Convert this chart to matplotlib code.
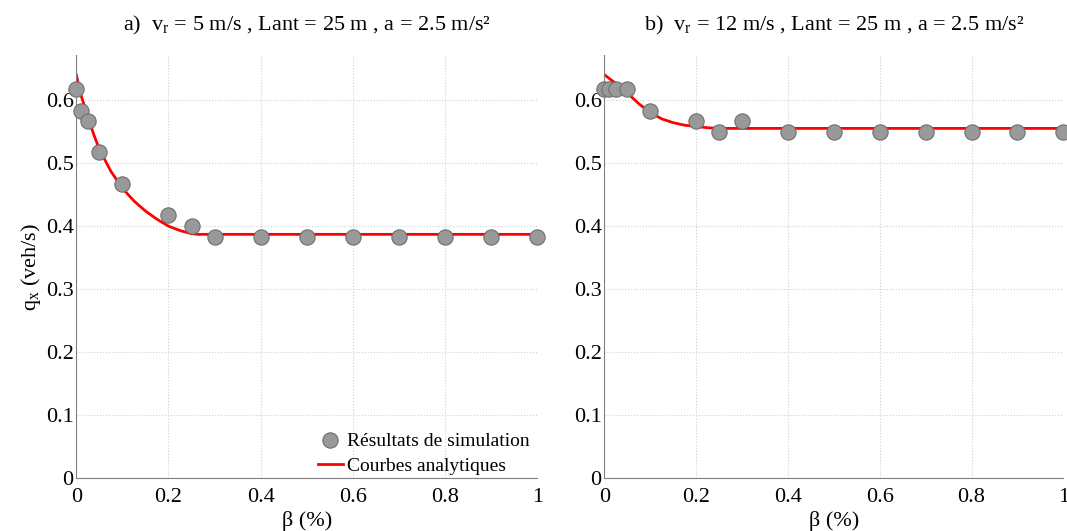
import matplotlib
matplotlib.use("Agg")
import matplotlib.pyplot as plt

plt.rcParams['font.family'] = ['Liberation Serif', 'DejaVu Serif']
plt.rcParams['mathtext.fontset'] = 'custom'
plt.rcParams['mathtext.rm'] = 'Liberation Serif'
plt.rcParams['mathtext.it'] = 'Liberation Serif:italic'

# simulation points
beta_sim = [0, 0.01, 0.025, 0.05, 0.1, 0.2, 0.25, 0.3, 0.4, 0.5, 0.6, 0.7, 0.8, 0.9, 1.0]
q_sim_a = [0.617, 0.583, 0.567, 0.517, 0.467, 0.417, 0.400, 0.383,
           0.383, 0.383, 0.383, 0.383, 0.383, 0.383, 0.383]
q_sim_b = [0.617, 0.617, 0.617, 0.617, 0.583, 0.567, 0.550, 0.567,
           0.550, 0.550, 0.550, 0.550, 0.550, 0.550, 0.550]

# analytic curves
beta_a = [0, 0.01, 0.025, 0.0375, 0.05, 0.075, 0.1, 0.125, 0.15, 0.175, 0.2, 0.225, 0.25, 0.265, 1.0]
q_a = [0.640, 0.608, 0.574, 0.546, 0.522, 0.487, 0.460, 0.440, 0.424, 0.411,
       0.400, 0.393, 0.388, 0.387, 0.387]
beta_b = [0, 0.025, 0.05, 0.075, 0.1, 0.125, 0.15, 0.175, 0.2, 0.225, 0.25, 1.0]
q_b = [0.640, 0.626, 0.611, 0.594, 0.580, 0.570, 0.564, 0.560, 0.558, 0.556, 0.555, 0.555]

titles = [r'a)  v$_{\rm r}$ = 5 m/s , Lant = 25 m , a = 2.5 m/s²',
          r'b)  v$_{\rm r}$ = 12 m/s , Lant = 25 m , a = 2.5 m/s²']

fig = plt.figure(figsize=(10.67, 5.31), dpi=100)
ax1 = fig.add_axes([0.0715, 0.099, 0.432, 0.797])
ax2 = fig.add_axes([0.5665, 0.099, 0.430, 0.797])

for ax, qs, bc, qc, title in [(ax1, q_sim_a, beta_a, q_a, titles[0]),
                              (ax2, q_sim_b, beta_b, q_b, titles[1])]:
    ax.plot(bc, qc, color='#ff0000', lw=2, label='Courbes analytiques', zorder=2)
    ax.plot(beta_sim, qs, 'o', ms=11, mfc='#999999', mec='#707070', mew=0.8,
            label='Résultats de simulation', zorder=3, clip_on=False)
    ax.set_xlim(0, 1)
    ax.set_ylim(0, 0.671)
    ax.set_xticks([0, 0.2, 0.4, 0.6, 0.8, 1])
    ax.set_xticklabels(['0', '0.2', '0.4', '0.6', '0.8', '1'])
    ax.set_yticks([0, 0.1, 0.2, 0.3, 0.4, 0.5, 0.6])
    ax.set_yticklabels(['0', '0.1', '0.2', '0.3', '0.4', '0.5', '0.6'])
    ax.tick_params(length=0, labelsize=16)
    ax.tick_params(axis='x', pad=7)
    ax.tick_params(axis='y', pad=2)
    ax.grid(True, color='#d0d0d0', ls=':', lw=0.8)
    for s in ['top', 'right']:
        ax.spines[s].set_visible(False)
    for s in ['left', 'bottom']:
        ax.spines[s].set_color('#808080')
    ax.set_xlabel('β (%)', fontsize=16, labelpad=3)
    ax.set_title(title, fontsize=16, pad=18)

ax1.set_ylabel(r'q$_{\rm x}$ (veh/s)', fontsize=16, labelpad=2)

h, l = ax1.get_legend_handles_labels()
ax1.legend([h[1], h[0]], [l[1], l[0]], loc='lower right', frameon=False,
           fontsize=14, handlelength=1.3, handletextpad=0.2, borderaxespad=0.0,
           labelspacing=0.35, bbox_to_anchor=(1.0, -0.01))

fig.savefig('out.png', dpi=100)
